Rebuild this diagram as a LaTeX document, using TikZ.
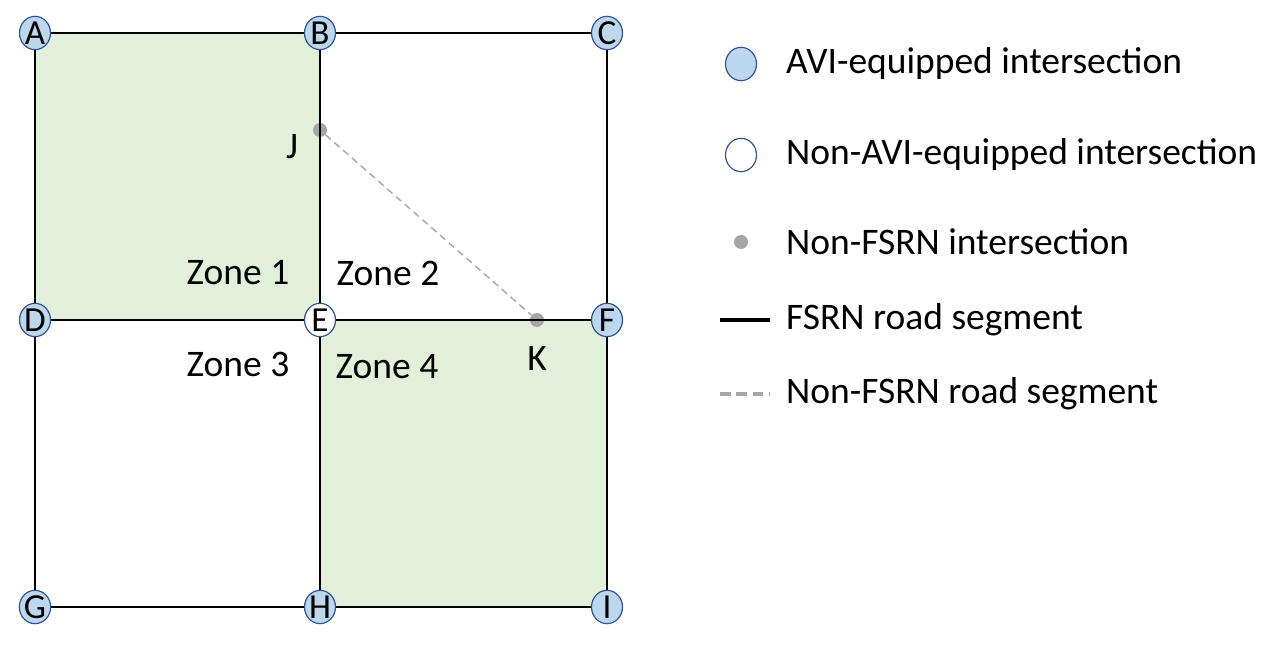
\documentclass[tikz,border=0pt]{standalone}
\usepackage{fontspec}
\setmainfont{Carlito}
\usetikzlibrary{shapes.geometric}
\definecolor{avifill}{RGB}{189,215,238}
\definecolor{aviedge}{RGB}{47,82,143}
\definecolor{zonefill}{RGB}{226,239,218}
\definecolor{nonfsrn}{RGB}{166,166,166}
\begin{document}
\begin{tikzpicture}[x=0.03cm,y=-0.03cm,font=\fontsize{32}{36}\selectfont]
	\tikzset{
		avi/.style={ellipse,draw=aviedge,fill=avifill,line width=1pt,inner sep=0pt,minimum width=0.93cm,minimum height=1.0cm,font=\fontsize{30}{30}\selectfont},
		nonavi/.style={avi,fill=white},
		minor/.style={circle,fill=nonfsrn,inner sep=0pt,minimum size=0.42cm},
		road/.style={black,line width=1.3pt},
		minorroad/.style={nonfsrn,line width=1.2pt,dash pattern=on 6pt off 4pt}
	}
	\useasboundingbox (0,0) rectangle (1280,653);

	% zones
	\fill[zonefill] (35,33) rectangle (320,320);
	\fill[zonefill] (320,320) rectangle (607,607);

	% intersections
	\coordinate (a) at (35,33);  \coordinate (b) at (320,33);  \coordinate (c) at (607,33);
	\coordinate (d) at (35,320); \coordinate (e) at (320,320); \coordinate (f) at (607,320);
	\coordinate (g) at (35,607); \coordinate (h) at (320,607); \coordinate (i) at (607,607);
	\node[minor] (j) at (320,130) {};
	\node[minor] (k) at (537,320) {};

	% roads
	\draw[road] (a) -- (b) -- (c) -- (f) -- (i) -- (h) -- (g) -- (d) -- (a);
	\draw[road] (b) -- (h);
	\draw[road] (d) -- (f);
	\draw[minorroad] (j) -- (k);

	\foreach \n/\t in {a/A,b/B,c/C,d/D,f/F,g/G,h/H,i/I}
		\node[avi] at (\n) {\t};
	\node[nonavi] at (e) {E};

	% labels
	\node at (292,147) {J};
	\node at (537,358) {K};
	\node at (238,273) {Zone 1};
	\node at (388,273) {Zone 2};
	\node at (238,364) {Zone 3};
	\node at (387,367) {Zone 4};

	% legend
	\node[avi] (l1) at (741,64) {};
	\node[nonavi] (l2) at (741,155) {};
	\node[minor] (l3) at (741,242) {};
	\coordinate (l4a) at (720,320); \coordinate (l4b) at (770,320);
	\coordinate (l5a) at (720,394); \coordinate (l5b) at (770,394);
	\draw[road,line width=2.6pt] (l4a) -- (l4b);
	\draw[minorroad,line width=2.6pt,dash pattern=on 9pt off 5pt] (l5a) -- (l5b);
	\node[right,inner sep=0pt] at (786,64) {AVI-equipped intersection};
	\node[right,inner sep=0pt] at (786,155) {Non-AVI-equipped intersection};
	\node[right,inner sep=0pt] at (786,242) {Non-FSRN intersection};
	\node[right,inner sep=0pt] at (786,320) {FSRN road segment};
	\node[right,inner sep=0pt] at (786,394) {Non-FSRN road segment};
\end{tikzpicture}
\end{document}
